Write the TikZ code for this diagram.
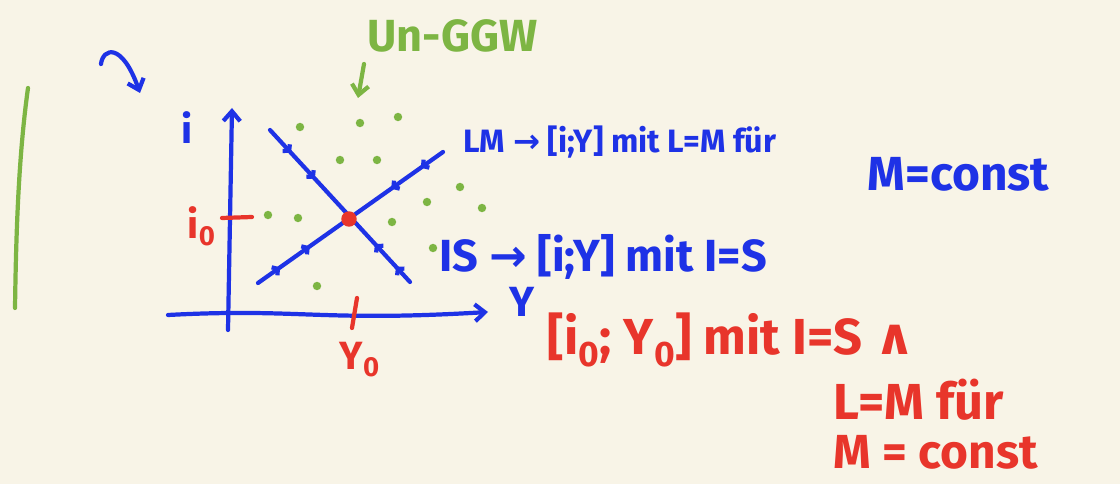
\documentclass[tikz,border=0pt]{standalone}
\usepackage{fontspec}
\setmainfont{Fira Sans}
\newfontfamily\symfont{DejaVu Sans}
\usetikzlibrary{arrows.meta, positioning, decorations.markings}
\definecolor{paper}{HTML}{F8F4E7}
\definecolor{bluepen}{HTML}{1E32E6}
\definecolor{redpen}{HTML}{E8352B}
\definecolor{greenpen}{HTML}{7DB543}
\newcommand{\toarrow}{{\symfont →}}
\newcommand{\andsign}{{\symfont ∧}}

\begin{document}
\begin{tikzpicture}[
			x=0.025cm, y=-0.025cm,
			stroke/.style={line width=3pt, line cap=round, line join=round},
			tip/.style={-{Straight Barb[length=7pt, width=12pt, line width=3pt]}},
			axis/.style={stroke, bluepen, tip},
			curve/.style={stroke, bluepen, postaction={decorate}},
			pen/.style={inner sep=1pt, anchor=west, font=\fontsize{#1}{#1}\selectfont\bfseries},
			bluetext/.style={pen=#1, text=bluepen},
			redtext/.style={pen=#1, text=redpen},
			greentext/.style={pen=#1, text=greenpen},
			dot/.style={circle, fill=greenpen, inner sep=0pt, minimum size=6pt}
			]
			\fill[paper] (0,0) rectangle (1120,484);
			\useasboundingbox (0,0) rectangle (1120,484);
			\coordinate (gtop) at (28,88);
			\coordinate (gbot) at (15,308);
			\draw[stroke, greenpen] (gtop) .. controls (18,160) and (16,240) .. (gbot);
			\coordinate (curlstart) at (101,64);
			\coordinate (curlend) at (140,93);
			\draw[stroke, bluepen, tip] (curlstart) .. controls (103,48) and (122,42) .. (curlend);
			\coordinate (ibot) at (228,330);
			\coordinate (itop) at (232,108);
			\coordinate (yleft) at (168,315);
			\coordinate (yend) at (488,312);
			\draw[axis] (ibot) -- (itop);
			\draw[axis] (yleft) .. controls (300,308) and (320,322) .. (yend);
			\node[bluetext=28] (ilabel) at (180,128) {i};
			\node[bluetext=30] (ylabel) at (508,302) {Y};
			\coordinate (istick) at (222,218);
			\coordinate (iltick) at (252,217);
			\coordinate (ytop) at (357,298);
			\coordinate (ybottom) at (352,328);
			\draw[stroke, redpen] (istick) -- (iltick);
			\draw[stroke, redpen] (ytop) -- (ybottom);
			\node[redtext=28] (izero) at (186,226) {i\textsubscript{0}};
			\node[redtext=28] (yzero) at (338,360) {Y\textsubscript{0}};
			\coordinate (isstart) at (270,130);
			\coordinate (isend) at (410,282);
			\coordinate (lmstart) at (258,283);
			\coordinate (lmend) at (443,152);
			\draw[curve, decoration={markings,
				mark=at position 0.15 with {\arrow{Straight Barb[length=3pt, width=7pt]}},
				mark=at position 0.32 with {\arrow{Straight Barb[length=3pt, width=7pt]}},
				mark=at position 0.75 with {\arrowreversed{Straight Barb[length=3pt, width=7pt]}},
				mark=at position 0.9 with {\arrowreversed{Straight Barb[length=3pt, width=7pt]}}}]
				(isstart) -- (isend);
			\draw[curve, decoration={markings,
				mark=at position 0.12 with {\arrow{Straight Barb[length=3pt, width=7pt]}},
				mark=at position 0.28 with {\arrow{Straight Barb[length=3pt, width=7pt]}},
				mark=at position 0.72 with {\arrowreversed{Straight Barb[length=3pt, width=7pt]}},
				mark=at position 0.88 with {\arrowreversed{Straight Barb[length=3pt, width=7pt]}}}]
				(lmstart) -- (lmend);
			\node[circle, fill=redpen, inner sep=0pt, minimum size=11pt] (eq) at (349,219) {};
			\foreach \px/\py in {300/127, 360/123, 398/117, 340/160, 377/160, 460/187, 427/202,
				482/208, 268/215, 298/218, 392/222, 433/248, 317/286}
				\node[dot] at (\px,\py) {};
			\node[greentext=32] (ungg) at (366,36) {Un-GGW};
			\coordinate (gtail) at (364,64);
			\coordinate (ghead) at (358,98);
			\draw[stroke, greenpen, tip] (gtail) -- (ghead);
			\node[bluetext=23] (lmtext) at (462,142) {LM \toarrow{} [i;Y] mit L=M für};
			\node[bluetext=34] (lmcond) at (866,174) {M=const};
			\node[bluetext=32] (istext) at (438,257) {IS \toarrow{} [i;Y] mit I=S};
			\node[redtext=36] (eqtext) at (546,340) {[i\textsubscript{0}; Y\textsubscript{0}] mit I=S \andsign};
			\node[redtext=36] (eqlm) at (832,400) {L=M für};
			\node[redtext=34] (eqconst) at (832,452) {M = const};
		\end{tikzpicture}
\end{document}
